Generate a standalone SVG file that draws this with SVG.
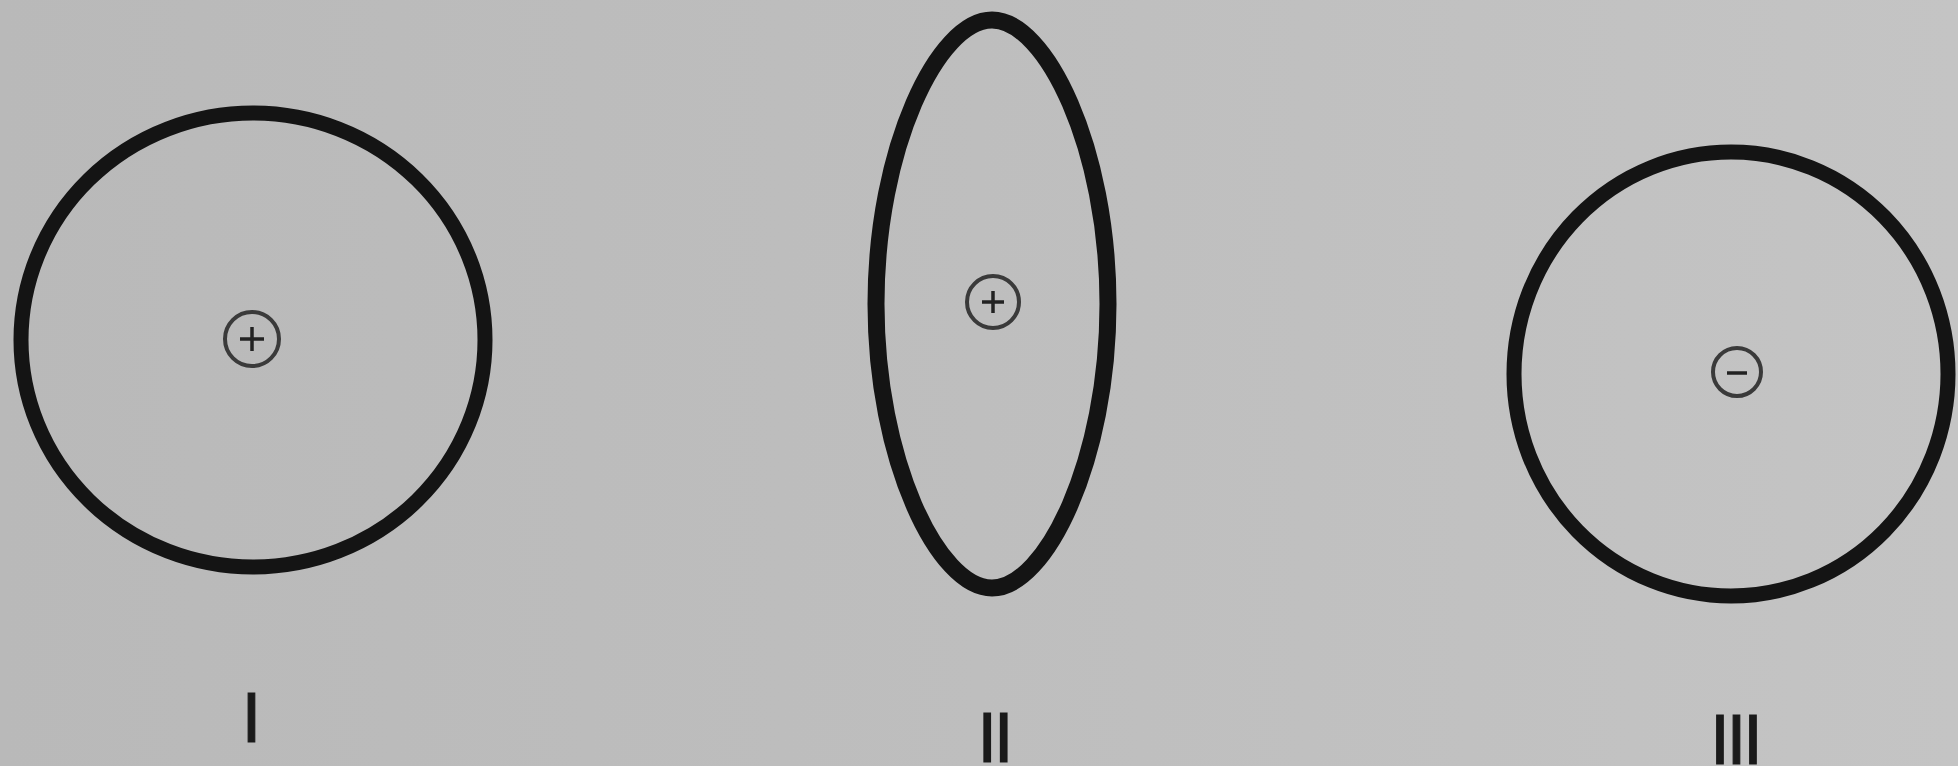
<svg xmlns="http://www.w3.org/2000/svg" width="1958" height="766" viewBox="0 0 1958 766">
  <defs>
    <linearGradient id="bg" x1="0" y1="0" x2="1" y2="0">
      <stop offset="0" stop-color="#b9b9b9"/>
      <stop offset="0.5" stop-color="#bebebe"/>
      <stop offset="1" stop-color="#c4c4c4"/>
    </linearGradient>
  </defs>
  <style>
    .orbit { fill: none; stroke: #141414; stroke-width: 15; }
    .nuc { fill: none; stroke: #3a3a3a; stroke-width: 4; }
    .sign { stroke: #222; stroke-width: 3.5; stroke-linecap: butt; }
    .lbl { font-family: "Liberation Sans", Arial, sans-serif; font-size: 70px; fill: #1a1a1a; stroke: #1a1a1a; stroke-width: 1.2; text-anchor: middle; letter-spacing: -3px; }
  </style>
  <rect x="0" y="0" width="1958" height="766" fill="url(#bg)"/>

  <g id="node-I">
    <ellipse class="orbit" cx="253" cy="340" rx="232" ry="227"/>
    <circle class="nuc" cx="252" cy="339" r="27"/>
    <line class="sign" x1="240" y1="339" x2="264" y2="339"/>
    <line class="sign" x1="252" y1="327" x2="252" y2="351"/>
    <text class="lbl" x="250" y="742">I</text>
  </g>

  <g id="node-II">
    <path class="orbit" style="stroke-width:17" d="M 992 20 C 1046 20 1108 148 1108 304 C 1108 460 1046 588 992 588 C 938 588 876 460 876 304 C 876 148 938 20 992 20 Z"/>
    <circle class="nuc" cx="993" cy="302" r="26"/>
    <line class="sign" x1="982" y1="302" x2="1004" y2="302"/>
    <line class="sign" x1="993" y1="291" x2="993" y2="313"/>
    <text class="lbl" x="994" y="762">II</text>
  </g>

  <g id="node-III">
    <ellipse class="orbit" cx="1731" cy="374" rx="217" ry="222"/>
    <circle class="nuc" cx="1737" cy="372" r="24"/>
    <line class="sign" x1="1727" y1="373" x2="1747" y2="373"/>
    <text class="lbl" x="1735" y="764">III</text>
  </g>

  <g id="connectors"></g>
</svg>
